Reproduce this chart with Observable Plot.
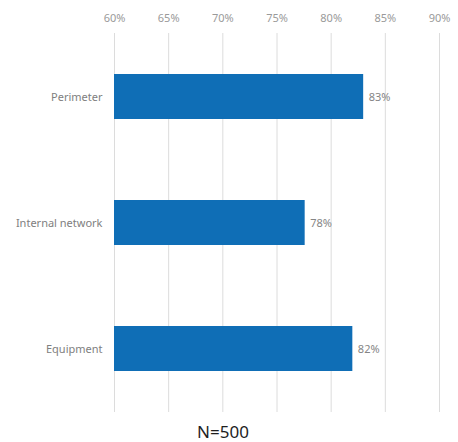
<!DOCTYPE html>
<html>
<head>
<meta charset="utf-8">
<script src="https://cdn.jsdelivr.net/npm/d3@7"></script>
<script src="https://cdn.jsdelivr.net/npm/@observablehq/plot@0.6"></script>
<style>
  body { margin: 0; background: #fff; font-family: "Noto Sans", sans-serif; }
  #chart { width: 458px; }
  #chart svg { display: block; }
  .caption { text-align: center; font-size: 17px; color: #1e1e1e; line-height: 20px; height: 20px; margin-left: -12px; }
</style>
</head>
<body>
<div id="chart"></div>
<script>
// Share of respondents by area
const categories = ["Perimeter", "Internal network", "Equipment"];
const values = [0.83, 0.776, 0.82];
const xTicks = [0.60, 0.65, 0.70, 0.75, 0.80, 0.85, 0.90];
const sampleNote = "N=500";

const rows = categories.map((c, i) => ({category: c, value: values[i]}));
const pct = d3.format(".0%");

const chart = Plot.plot({
  width: 458,
  height: 422,
  marginLeft: 114,
  marginRight: 19,
  marginTop: 33,
  marginBottom: 10,
  style: {fontFamily: "'Noto Sans', sans-serif", fontSize: "11px", color: "#999"},
  x: {domain: [0.60, 0.90], ticks: xTicks, tickFormat: pct, axis: null, label: null},
  y: {domain: categories, label: null, paddingInner: 0.644, paddingOuter: 0.322, axis: null},
  marks: [
    Plot.gridX(xTicks, {stroke: "#dcdcdc", strokeOpacity: 1, strokeWidth: 1}),
    Plot.axisX(xTicks, {anchor: "top", tickSize: 0, tickPadding: 12, tickFormat: pct, fill: "#9a9a9a", label: null}),
    Plot.barX(rows, {x1: 0.60, x2: "value", y: "category", fill: "#0f6eb6"}),
    Plot.text(rows, {x: "value", y: "category", text: d => pct(d.value), textAnchor: "start", dx: 5, fill: "#858585", fontSize: 11}),
    Plot.axisY({tickSize: 0, tickPadding: 12, fill: "#808080", label: null})
  ]
});
document.getElementById("chart").appendChild(chart);
const cap = document.createElement("div");
cap.className = "caption";
cap.textContent = sampleNote;
document.getElementById("chart").appendChild(cap);
</script>
</body>
</html>
